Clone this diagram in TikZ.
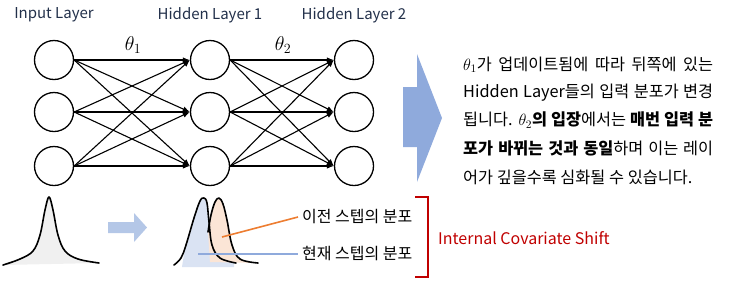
\documentclass[tikz,border=0pt]{standalone}
\usepackage{fix-cm}
\usepackage{fontspec}
\setmainfont{Noto Sans CJK KR}
\usetikzlibrary{arrows.meta}
\definecolor{titlec}{HTML}{22304A}
\definecolor{bigarrow}{HTML}{8FAADC}
\definecolor{smallarrow}{HTML}{B4C7E7}
\definecolor{bluefill}{HTML}{DAE3F3}
\definecolor{orangefill}{HTML}{FBE5D6}
\definecolor{orangeline}{HTML}{ED7D31}
\definecolor{blueline}{HTML}{8FAADC}
\definecolor{redc}{HTML}{C00000}
\definecolor{grayfill}{HTML}{F0F0F0}
\tikzset{
  neuron/.style={circle, draw=black, line width=1.3pt, minimum size=39pt, inner sep=0pt, fill=white},
  conn/.style={line width=1.1pt, -{Latex[length=7pt,width=5.5pt]}},
  title/.style={text=titlec, font=\fontsize{15}{18}\selectfont},
  body/.style={anchor=west, inner sep=0pt, font=\fontsize{16.3}{19}\selectfont},
  distlabel/.style={anchor=west, inner sep=0pt, font=\fontsize{16}{18}\selectfont},
  curve/.style={line width=1.6pt, line cap=round, line join=round},
}
\begin{document}
\begin{tikzpicture}[x=1pt,y=-1pt]
\useasboundingbox (0,0) rectangle (730,285);
% layer titles
\node[title] (tin) at (54,15) {Input Layer};
\node[title] (th1) at (210,15) {Hidden Layer 1};
\node[title] (th2) at (354,15) {Hidden Layer 2};
% neurons
\foreach \i/\y in {1/60,2/112,3/166}{
  \node[neuron] (a\i) at (54,\y) {};
  \node[neuron] (b\i) at (210,\y) {};
  \node[neuron] (c\i) at (354,\y) {};
}
\foreach \i in {1,2,3}{
  \foreach \j in {1,2,3}{
    \draw[conn] (a\i.east) -- (b\j.west);
    \draw[conn] (b\i.east) -- (c\j.west);
  }
}
\node (t1) at (133,45) {\fontsize{20}{22}\selectfont$\theta_1$};
\node (t2) at (283,45) {\fontsize{20}{22}\selectfont$\theta_2$};
% big arrow
\fill[bigarrow] (403,87) -- (417,87) -- (417,54) -- (442,118) -- (417,182) -- (417,147) -- (403,147) -- cycle;
% body text
\node[body] (l1) at (463,65) {\makebox[250pt][s]{$\theta_1$가 업데이트됨에 따라 뒤쪽에 있는}};
\node[body] (l2) at (463,93) {\makebox[250pt][s]{Hidden Layer들의 입력 분포가 변경}};
\node[body] (l3) at (463,120) {\makebox[250pt][s]{됩니다. $\theta_2$\textbf{의 입장}에서는 \textbf{매번 입력 분}}};
\node[body] (l4) at (463,148) {\makebox[250pt][s]{\textbf{포가 바뀌는 것과 동일}하며 이는 레이}};
\node[body] (l5) at (463,177) {어가 깊을수록 심화될 수 있습니다.};
% left bell curve
\fill[grayfill] plot[smooth, tension=0.6] coordinates {(3,265)(20,259)(33,251)(40,235)(45,210)(49,197)(53,210)(58,235)(65,251)(78,259)(99,263)} -- cycle;
\draw[curve] plot[smooth, tension=0.6] coordinates {(3,265)(20,259)(33,251)(40,235)(45,210)(49,197)(53,210)(58,235)(65,251)(78,259)(99,263)};
% small arrow
\fill[smallarrow] (108,222) -- (134,222) -- (134,213) -- (147,227.5) -- (134,242) -- (134,233) -- (108,233) -- cycle;
% blue (current) distribution
\fill[bluefill] plot[smooth, tension=0.6] coordinates {(182,267)(186,245)(194,218)(200,201)(204,198)(207,203)(209,222)(212,245)(220,258)(234,263)} -- (234,267) -- cycle;
% orange (previous) distribution
\fill[orangefill] plot[smooth, tension=0.6] coordinates {(208,232)(211,215)(215,202)(219,198)(223,204)(227,220)(232,245)(240,259)(258,263)} -- (210,262) -- cycle;
\draw[curve] plot[smooth, tension=0.6] coordinates {(208,232)(211,215)(215,202)(219,198)(223,204)(227,220)(232,245)(240,259)(258,263)};
\draw[curve] plot[smooth, tension=0.6] coordinates {(174,265)(181,258)(186,245)(194,218)(200,201)(204,198)(207,203)(209,222)(212,245)(220,258)(236,263)};
% leader lines and labels
\node[distlabel] (prev) at (302,217) {이전 스텝의 분포};
\node[distlabel] (curr) at (302,254) {현재 스텝의 분포};
\coordinate (po) at (222,237);
\coordinate (pb) at (198,254);
\draw[orangeline, line width=1.6pt] (po) -- ([xshift=-4pt]prev.west);
\draw[blueline, line width=1.6pt] (pb) -- ([xshift=-4pt]curr.west);
% red bracket
\draw[redc, line width=2.2pt] (415,197) -- (428,197) -- (428,277) -- (415,277);
\node[anchor=west, inner sep=0pt, text=redc, font=\fontsize{16}{18}\selectfont] (ics) at (438,238) {Internal Covariate Shift};
\end{tikzpicture}
\end{document}
